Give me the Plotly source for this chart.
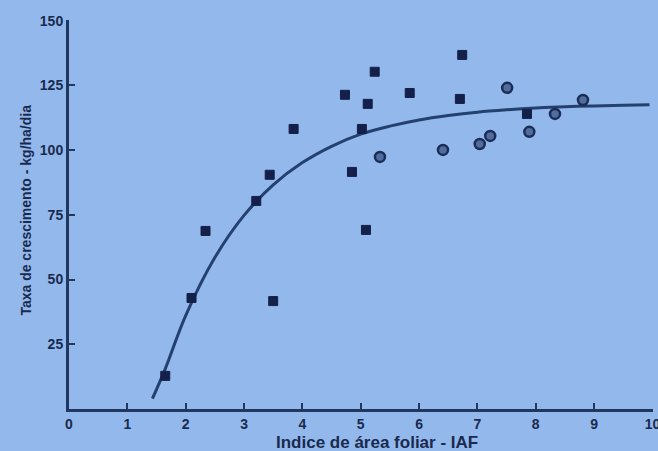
import plotly.graph_objects as go

# Filled squares (data set 1)
filled_x = [1.65, 2.10, 2.34, 3.21, 3.44, 3.50, 3.85, 4.73, 4.85, 5.02, 5.09, 5.12, 5.24, 5.84, 6.70, 6.74, 7.85]
filled_y = [12.8, 42.9, 68.8, 80.4, 90.5, 41.7, 108.2, 121.4, 91.6, 108.2, 69.2, 117.9, 130.3, 122.1, 119.8, 136.8, 114.0]

# Open circles (data set 2)
open_x = [5.33, 6.41, 7.04, 7.22, 7.51, 7.89, 8.33, 8.81]
open_y = [97.4, 100.1, 102.4, 105.5, 124.1, 107.1, 114.0, 119.4]

# Fitted curve
curve_x = [1.43, 1.65, 2.0, 2.5, 3.0, 3.5, 4.0, 4.5, 5.0, 5.5, 6.0, 6.5, 7.0, 7.5, 8.0, 8.5, 9.0, 9.5, 9.95]
curve_y = [4.0, 15.5, 36.1, 58.5, 74.8, 86.6, 95.2, 101.5, 106.2, 109.3, 111.7, 113.4, 114.7, 115.6, 116.3, 116.8, 117.1, 117.4, 117.6]

x_ticks = [0, 1, 2, 3, 4, 5, 6, 7, 8, 9, 10]
y_ticks = [25, 50, 75, 100, 125, 150]

x_title = "Indice de área foliar - IAF"
y_title = "Taxa de crescimento - kg/ha/dia"

ink = "#1a2a4e"
bg = "#93b9ec"

fig = go.Figure()
fig.add_trace(go.Scatter(x=curve_x, y=curve_y, mode="lines",
                         line=dict(color="#24406e", width=3, shape="spline"),
                         showlegend=False, hoverinfo="skip"))
fig.add_trace(go.Scatter(x=filled_x, y=filled_y, mode="markers",
                         marker=dict(symbol="square", size=9, color="#14204a",
                                     line=dict(color="#14204a", width=1)),
                         showlegend=False))
fig.add_trace(go.Scatter(x=open_x, y=open_y, mode="markers",
                         marker=dict(symbol="circle", size=10, color="#4f6d9e",
                                     line=dict(color="#1c2c56", width=2.5)),
                         showlegend=False))

axis_common = dict(showgrid=False, zeroline=False, showline=True, linecolor="#22375f",
                   linewidth=3, ticks="inside", ticklen=6, tickwidth=2, tickcolor="#22375f",
                   automargin=False, ticklabeloverflow="allow",
                   tickfont=dict(family="Liberation Sans", size=14, color=ink, weight="bold"))

fig.update_xaxes(range=[0, 10.01], tickvals=x_ticks, ticktext=[str(v) for v in x_ticks], **axis_common)
fig.update_yaxes(range=[0, 150.3], tickvals=y_ticks, ticktext=[str(v) for v in y_ticks], **axis_common)

fig.add_annotation(text=x_title, xref="paper", yref="paper", x=0.527, y=-0.085,
                   showarrow=False, xanchor="center", yanchor="middle",
                   font=dict(family="Liberation Sans", size=17, color=ink, weight="bold"))
fig.add_annotation(text=y_title, xref="paper", yref="paper", x=-0.074, y=0.512,
                   showarrow=False, textangle=-90, xanchor="center", yanchor="middle",
                   font=dict(family="Liberation Sans", size=14, color=ink, weight="bold"))

fig.update_layout(width=658, height=451, margin=dict(l=69, r=5, t=20, b=42, autoexpand=False),
                  paper_bgcolor=bg, plot_bgcolor=bg)
fig.write_html("out.html", config={"displayModeBar": False},
               post_script="document.body.style.margin='0';document.body.style.background='" + bg + "';")
